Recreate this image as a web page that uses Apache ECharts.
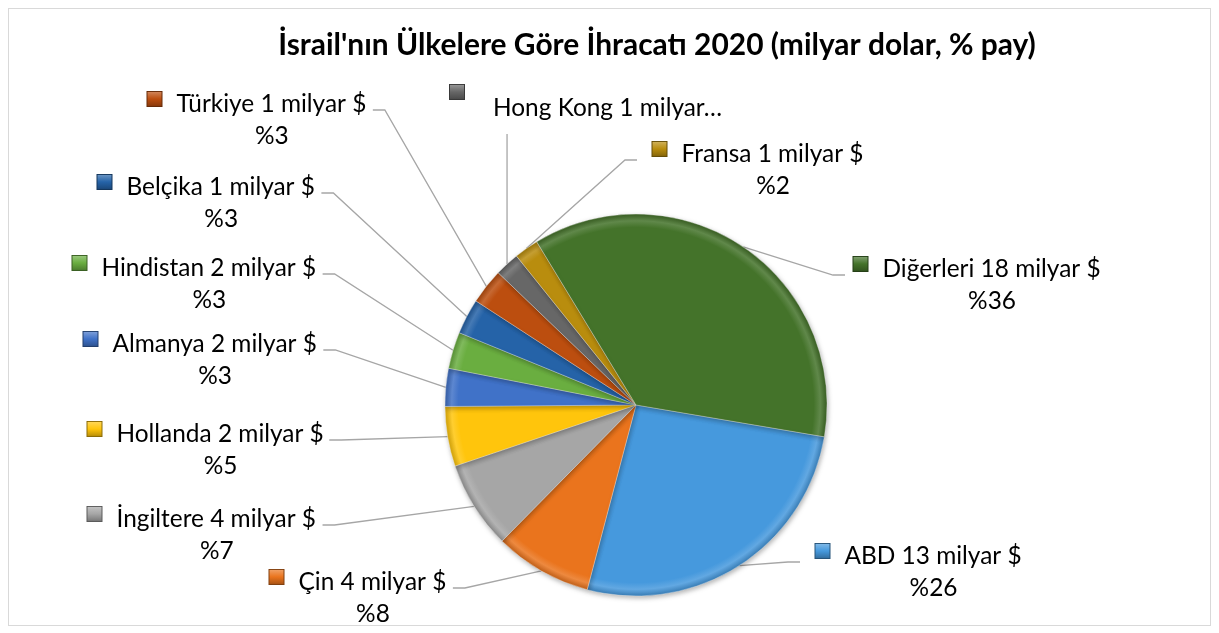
<!DOCTYPE html>
<html>
<head>
<meta charset="utf-8">
<script src="https://cdn.jsdelivr.net/npm/echarts@6/dist/echarts.min.js"></script>
<style>
html,body{margin:0;padding:0;background:#fff;}
#frame{position:absolute;left:8px;top:8px;width:1203px;height:618px;border:1px solid #d9d9d9;box-sizing:border-box;}
#chart{position:absolute;left:0;top:0;width:1219px;height:633px;}
</style>
</head>
<body>
<div id="frame"></div>
<div id="chart"></div>
<script>
// ---------------- data ----------------
const titleText = "İsrail'nın Ülkelere Göre İhracatı 2020 (milyar dolar, % pay)";
const countries = ['ABD', 'Çin', 'İngiltere', 'Hollanda', 'Almanya', 'Hindistan', 'Belçika', 'Türkiye', 'Hong Kong', 'Fransa', 'Diğerleri'];
const exportsBn = [12.8, 4.0, 3.6, 2.45, 1.55, 1.5, 1.45, 1.45, 1.0, 1.0, 17.6];
const unitText = 'milyar $';
const truncatedNames = ['Hong Kong'];

// ---------------- styles / layout ----------------
const sliceColors = ['#4699DD', '#EA741D', '#A6A6A6', '#FFC50C', '#4072C8', '#6AAE40', '#2563A8', '#BC4E0F', '#676767', '#B98D0E', '#44732A'];
const CX = 636, CY = 405, R = 191, START = -9.6;
const FAM = 'Lato, "Open Sans", sans-serif';
// label spots: key-left x, first-line baseline y, side of leader attach, gap
const labelSpots = {
  'ABD':       {x: 815, y: 564, side: 'R', gap: 15},
  'Çin':       {x: 269, y: 590, side: 'L', gap: 6},
  'İngiltere': {x: 87,  y: 527, side: 'L', gap: 6},
  'Hollanda':  {x: 87,  y: 442, side: 'L', gap: 5},
  'Almanya':   {x: 83,  y: 352, side: 'L', gap: 6},
  'Hindistan': {x: 72,  y: 276, side: 'L', gap: 6},
  'Belçika':   {x: 97,  y: 195, side: 'L', gap: 6},
  'Türkiye':   {x: 147, y: 112, side: 'L', gap: 6},
  'Hong Kong': {x: 450, y: 116, side: 'T', gap: 0},
  'Fransa':    {x: 652, y: 162, side: 'R', gap: 15},
  'Diğerleri': {x: 853, y: 277, side: 'R', gap: 8}
};

function hexToRgb(h){h=h.replace('#','');return [parseInt(h.substr(0,2),16),parseInt(h.substr(2,2),16),parseInt(h.substr(4,2),16)];}
function mix(h, t, target){const c=hexToRgb(h);return 'rgb('+c.map(v=>Math.round(v+(target-v)*t)).join(',')+')';}
function lighten(h,t){return mix(h,t,255);}
function darken(h,t){return mix(h,t,0);}

function fitSize(text, weight, targetW){
  const ctx = document.createElement('canvas').getContext('2d');
  ctx.font = weight + ' 100px Lato';
  return 100 * targetW / ctx.measureText(text).width;
}
const labelFS = fitSize('Türkiye 1 milyar $', 'normal', 190);
const titleFS = fitSize(titleText, 'bold', 758);
const BL = labelFS * 0.33; // baseline offset below line middle

const total = exportsBn.reduce((a, b) => a + b, 0);

const rich = {
  t:  {fontFamily: FAM, fontSize: labelFS, lineHeight: 24, color: '#000'},
  p:  {fontFamily: FAM, fontSize: labelFS, lineHeight: 40, color: '#000'},
  gap:{width: 15, lineHeight: 24},
  sp: {width: 30, lineHeight: 40},
  hs: {width: 43, lineHeight: 16},
  ht: {fontFamily: FAM, fontSize: labelFS, lineHeight: 16, color: '#000'}
};
sliceColors.forEach((c, i) => {
  const bg = {type: 'linear', x: 0, y: 0, x2: 0, y2: 1, colorStops: [
    {offset: 0, color: lighten(c, 0.35)}, {offset: 0.5, color: c}, {offset: 1, color: darken(c, 0.3)}]};
  rich['k' + i] = {width: 14, height: 14, lineHeight: 24, verticalAlign: 'top', backgroundColor: bg, borderColor: darken(c, 0.45), borderWidth: 1};
  rich['hk' + i] = {width: 14, height: 14, lineHeight: 16, backgroundColor: bg, borderColor: darken(c, 0.45), borderWidth: 1};
});

const pieData = countries.map((name, i) => ({
  name: name,
  value: exportsBn[i],
  itemStyle: {
    color: {type: 'radial', x: CX, y: CY, r: R, global: true, colorStops: [
      {offset: 0, color: sliceColors[i]},
      {offset: 0.93, color: sliceColors[i]},
      {offset: 0.965, color: lighten(sliceColors[i], 0.15)},
      {offset: 1, color: darken(sliceColors[i], 0.18)}]}
  }
}));

function labelFormatter(p) {
  const i = p.dataIndex;
  const bil = Math.round(p.value);
  const pct = Math.round(p.value / total * 100);
  if (truncatedNames.indexOf(p.name) >= 0) {
    return '{hk' + i + '|}\n{hs|}{ht|' + p.name + ' ' + bil + ' milyar…}';
  }
  return '{k' + i + '|}{gap|}{t|' + p.name + ' ' + bil + ' ' + unitText + '}\n{sp|}{p|%' + pct + '}';
}

function arcMid(i) {
  let cum = 0;
  for (let k = 0; k < i; k++) cum += exportsBn[k];
  const a = (START - (cum + exportsBn[i] / 2) / total * 360) * Math.PI / 180;
  return [CX + R * Math.cos(a), CY - R * Math.sin(a)];
}

function labelLayout(p) {
  const i = p.dataIndex;
  const name = countries[i];
  const s = labelSpots[name];
  const w = p.labelRect.width;
  const p0 = (p.labelLinePoints && p.labelLinePoints[0]) ? p.labelLinePoints[0] : arcMid(i);
  if (s.side === 'T') {
    const top = s.y - 16 - 8 - BL;
    return {x: s.x, y: top, align: 'left', verticalAlign: 'top',
      labelLinePoints: [p0, [p0[0], top + 50], [p0[0], top + 50]]};
  }
  const top = s.y - 12 - BL;
  const ay = s.y - 2;
  let pts;
  if (s.side === 'L') {
    const ax = s.x + w + s.gap;
    pts = [p0, [ax + 12, ay], [ax, ay]];
  } else {
    const ax = s.x - s.gap;
    pts = [p0, [ax - 12, ay], [ax, ay]];
  }
  return {x: s.x + w / 2, y: top, align: 'center', verticalAlign: 'top', labelLinePoints: pts};
}

const chart = echarts.init(document.getElementById('chart'), null, {renderer: 'canvas'});
chart.setOption({
  animation: false,
  backgroundColor: 'transparent',
  title: {
    text: titleText,
    left: 652,
    textAlign: 'center',
    top: 25,
    textStyle: {fontFamily: FAM, fontWeight: 'bold', fontSize: titleFS, color: '#000'}
  },
  series: [{
    type: 'pie',
    center: [CX, CY],
    radius: R,
    startAngle: START,
    clockwise: true,
    avoidLabelOverlap: false,
    data: pieData,
    itemStyle: {borderColor: 'rgba(255,255,255,0.4)', borderWidth: 0.8,
      shadowBlur: 5, shadowColor: 'rgba(0,0,0,0.3)', shadowOffsetX: 1, shadowOffsetY: 2},
    label: {show: true, position: 'outside', formatter: labelFormatter, rich: rich, fontFamily: FAM, fontSize: labelFS, color: '#000'},
    labelLine: {show: true, length: 10, length2: 12, lineStyle: {color: '#a6a6a6', width: 1.3, shadowBlur: 0, shadowColor: 'transparent'}},
    labelLayout: labelLayout,
    emphasis: {disabled: true}
  }]
});
</script>
</body>
</html>
